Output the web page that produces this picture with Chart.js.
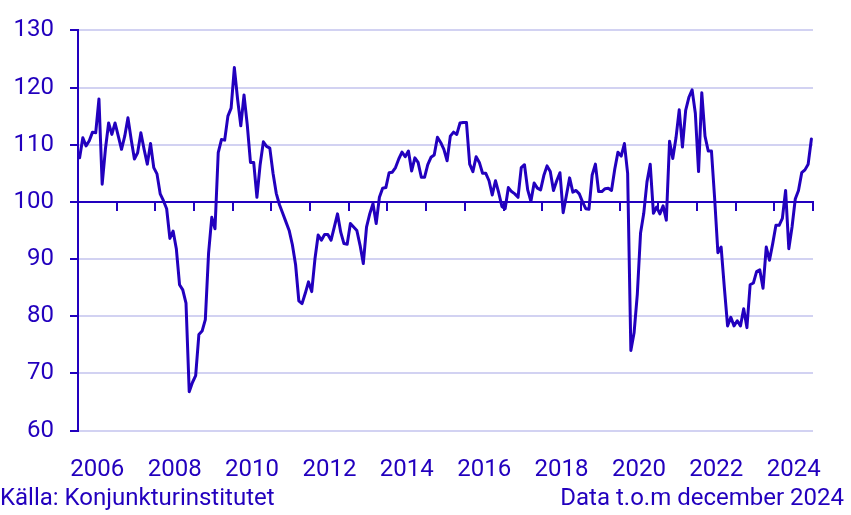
<!DOCTYPE html>
<html><head><meta charset="utf-8">
<script src="https://cdn.jsdelivr.net/npm/chart.js@4/dist/chart.umd.min.js"></script>
<style>
html,body{margin:0;padding:0;background:#fff;}
#wrap{position:relative;width:851px;height:515px;overflow:hidden;}
canvas{display:block;}
.note{position:absolute;font-family:Roboto,sans-serif;font-size:24px;line-height:24px;color:#2200be;top:485px;white-space:nowrap;}
</style></head><body>
<div id="wrap"><canvas id="c" width="851" height="515"></canvas>
<div class="note" style="left:0">Källa: Konjunkturinstitutet</div>
<div class="note" style="right:7px">Data t.o.m december 2024</div>
</div>
<script>
const startYear = 2006;
const endYear = 2025;
const tickYears = ['2006','2008','2010','2012','2014','2016','2018','2020','2022','2024'];
const yTicks = [60,70,80,90,100,110,120,130];
const baseline = 100;
// monthly values Jan 2006 - Dec 2024
const values = [
 107.7,111.2,109.8,110.7,112.2,112.1,118.0,103.1,109.2,113.8,111.8,113.8,
 111.5,109.2,111.5,114.7,110.9,107.5,108.6,112.1,109.2,106.6,110.2,106.0,
 104.9,101.4,100.2,98.8,93.6,94.9,91.8,85.5,84.6,82.3,66.8,68.4,
 69.6,76.8,77.4,79.4,91.0,97.3,95.3,108.6,110.9,110.8,115.0,116.4,
 123.5,118.0,113.3,118.7,113.5,106.9,106.9,100.8,106.5,110.5,109.7,109.4,
 105.0,101.5,99.5,98.0,96.5,95.0,92.5,89.0,82.7,82.2,84.0,86.0,
 84.3,90.0,94.2,93.3,94.3,94.3,93.3,95.6,97.9,94.7,92.7,92.6,
 96.2,95.6,95.0,92.4,89.2,95.6,97.9,99.7,96.2,100.8,102.4,102.5,
 105.1,105.2,106.0,107.5,108.7,107.9,108.9,105.4,107.7,106.9,104.3,104.3,
 106.5,107.8,108.2,111.3,110.4,109.2,107.2,111.5,112.2,111.8,113.8,113.9,
 113.9,106.6,105.3,107.9,106.9,105.0,105.0,103.7,101.2,103.7,101.6,99.2,
 98.8,102.5,101.8,101.4,100.8,106.0,106.5,102.1,100.1,103.3,102.4,102.1,
 104.6,106.3,105.3,102.0,103.7,105.1,98.1,101.1,104.2,101.7,102.0,101.4,
 100.0,98.8,98.7,104.7,106.6,101.8,101.8,102.3,102.4,102.0,105.7,108.7,
 108.0,110.2,105.0,74.0,77.1,83.8,94.5,98.0,103.5,106.6,98.0,99.1,
 97.9,99.3,96.8,110.6,107.6,111.2,116.1,109.6,116.0,118.3,119.6,115.5,
 105.3,119.1,111.5,108.9,108.9,100.5,91.1,92.1,85.0,78.3,79.8,78.3,
 79.2,78.3,81.3,78.0,85.5,85.8,87.8,88.1,84.9,92.1,89.8,92.7,
 95.9,95.9,97.1,102.0,91.8,95.6,100.5,102.0,105.1,105.6,106.6,111.0
];

const BLUE = '#2200be';
const GRID = '#d2d2f2';

function draw(){
  Chart.defaults.font.family = 'Roboto';
  Chart.defaults.font.size = 24;
  Chart.defaults.color = BLUE;
  const pts = values.map((v,i)=>({x: startYear + (i+0.5)/12, y: v}));
  const yearTicks = [];
  for (let y = startYear; y <= endYear; y++) yearTicks.push({value: y});
  new Chart(document.getElementById('c'), {
    type: 'line',
    data: { datasets: [{
      data: pts, borderColor: BLUE, borderWidth: 3, pointRadius: 0,
      tension: 0, fill: false, borderJoinStyle: 'round', borderCapStyle: 'round'
    }]},
    options: {
      responsive: false, animation: false, devicePixelRatio: 1,
      layout: { padding: { left: 0, right: 38, top: 27, bottom: 0 } },
      plugins: { legend: {display:false}, tooltip: {enabled:false} },
      scales: {
        x: {
          type: 'linear', position: 'bottom', min: startYear, max: endYear,
          grid: { display: false }, border: { display: false },
          afterBuildTicks: s => { s.ticks = tickYears.map(t => ({value: +t + 0.5})); },
          ticks: { padding: 17, autoSkip: false, maxRotation: 0, color: BLUE,
                   callback: (v, i) => tickYears[i] },
          afterFit: s => { s.height = 84.5; }
        },
        x2: {
          type: 'linear', axis: 'x', position: { y: baseline }, min: startYear, max: endYear,
          afterBuildTicks: s => { s.ticks = yearTicks.map(t => ({value: t.value})); },
          ticks: { display: false },
          grid: { drawOnChartArea: false, drawTicks: true, tickLength: 8,
                  tickColor: BLUE, tickWidth: 2, color: BLUE, lineWidth: 2 },
          border: { display: true, color: BLUE, width: 2 }
        },
        y: {
          type: 'linear', position: 'left', min: yTicks[0], max: yTicks[yTicks.length-1],
          afterBuildTicks: s => { s.ticks = yTicks.map(v => ({value: v})); },
          ticks: { padding: 16, color: BLUE },
          grid: { color: c => (c.tick && c.tick.value === baseline) ? 'rgba(0,0,0,0)' : GRID,
                  lineWidth: 2, tickLength: 8, tickColor: BLUE, tickWidth: 2 },
          border: { display: true, color: BLUE, width: 2 },
          afterFit: s => { s.width = 78; }
        }
      }
    }
  });
}
if (document.fonts && document.fonts.load) {
  document.fonts.load('24px Roboto').then(draw, draw);
} else draw();
</script>
</body></html>
